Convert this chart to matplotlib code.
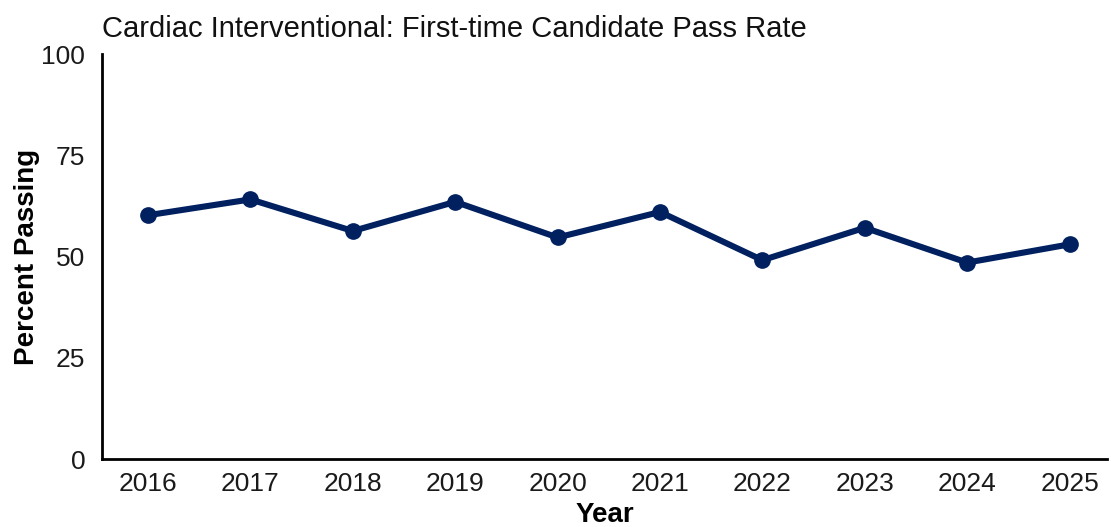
import matplotlib
matplotlib.use("Agg")
import matplotlib.pyplot as plt

years = ['2016', '2017', '2018', '2019', '2020', '2021', '2022', '2023', '2024', '2025']
pass_rate = [60.2, 64.1, 56.3, 63.5, 54.7, 61.0, 49.1, 57.1, 48.5, 53.0]

plt.rcParams['font.family'] = ['Liberation Sans', 'DejaVu Sans']

fig = plt.figure(figsize=(11.11, 5.27), dpi=100)
ax = fig.add_axes([0.0918, 0.129, 0.905, 0.7685])

x = list(range(len(years)))
ax.plot(x, pass_rate, color='#002060', linewidth=4.4, marker='o', markersize=11,
        solid_capstyle='round')

ax.set_xlim(-0.45, 9.37)
ax.set_ylim(0, 100)
ax.set_yticks([0, 25, 50, 75, 100])
ax.set_xticks(x)
ax.set_xticklabels(years)
ax.tick_params(length=0, labelsize=19, colors='#1a1a1a', pad=9)
ax.tick_params(axis='y', pad=12)
for s in ['top', 'right']:
    ax.spines[s].set_visible(False)
for s in ['left', 'bottom']:
    ax.spines[s].set_linewidth(2)
    ax.spines[s].set_color('black')

ax.set_xlabel('Year', fontsize=20, fontweight='bold', labelpad=5)
ax.set_ylabel('Percent Passing', fontsize=20, fontweight='bold', labelpad=1)
ax.set_title('Cardiac Interventional: First-time Candidate Pass Rate', loc='left',
             fontsize=21, pad=12, color='#111111')

fig.savefig('out.png', dpi=100)
